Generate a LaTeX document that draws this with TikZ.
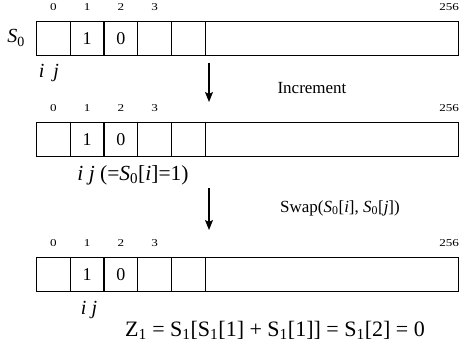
\documentclass[tikz,border=0pt]{standalone}
\usepackage{fontspec}
\setmainfont{Liberation Serif}
\usetikzlibrary{arrows.meta}
\newcommand\ssub[1]{\textsubscript{#1}}
\newcommand\wid[1]{\scalebox{1.25}[1]{#1}}
\begin{document}
\begin{tikzpicture}[x=1pt,y=-1pt,
  cell/.style={draw, line width=1.2pt, minimum height=34pt, inner sep=0pt, anchor=north west},
  idx/.style={font=\fontsize{10.5}{12}\selectfont, inner sep=0pt},
  val/.style={font=\fontsize{18}{20}\selectfont, inner sep=0pt},
  lbl/.style={font=\fontsize{20}{24}\selectfont, inner sep=0pt},
  note/.style={font=\fontsize{17}{20}\selectfont, inner sep=0pt},
  flow/.style={line width=1.2pt, -{Stealth[length=10pt,width=8pt,inset=2pt]}}]
\useasboundingbox (0,0) rectangle (460,352);
\foreach \k/\t in {a/21, b/122, c/257} {
  \foreach \i/\x in {0/36, 1/69.7, 2/103.4, 3/137.1, 4/170.8} {
    \node[cell, minimum width=33.7pt] (\k\i) at (\x,\t) {};
  }
  \node[cell, minimum width=253.5pt] (\k5) at (204.5,\t) {};
  \foreach \i in {0,1,2,3} {
    \node[idx] (\k n\i) at ([yshift=13.5pt]\k\i.north) {\wid{\i}};
  }
  \node[idx, anchor=east] (\k n256) at ([yshift=13.5pt]\k5.north east) {\wid{256}};
  \node[val] (\k v1) at (\k1.center) {1};
  \node[val] (\k v0) at (\k2.center) {0};
}
\node[lbl] (s0) at (16,38) {\textit{S}\ssub{0}};
\node[lbl] (ija) at (49,73) {\textit{i\hspace{0.45em}j}};
\node[lbl, font=\fontsize{21.5}{24}\selectfont] (ijb) at (133,175) {\textit{i j} (=\textit{S}\ssub{0}[\textit{i}]=1)};
\node[lbl] (ijc) at (89,310) {\textit{i j}};
\node[font=\fontsize{22}{26}\selectfont, inner sep=0pt] (z) at (275,330)
  {Z\ssub{1} = S\ssub{1}[S\ssub{1}[1] + S\ssub{1}[1]] = S\ssub{1}[2] = 0};
\node[note] (inc) at (312,88) {Increment};
\node[note] (swp) at (340,208)
  {Swap(\textit{S}\ssub{0}[\textit{i}], \textit{S}\ssub{0}[\textit{j}])};
\coordinate (a1s) at (209,63);
\coordinate (a1e) at (209,102);
\coordinate (a2s) at (209,188);
\coordinate (a2e) at (209,230);
\draw[flow] (a1s) -- (a1e);
\draw[flow] (a2s) -- (a2e);
\end{tikzpicture}
\end{document}
